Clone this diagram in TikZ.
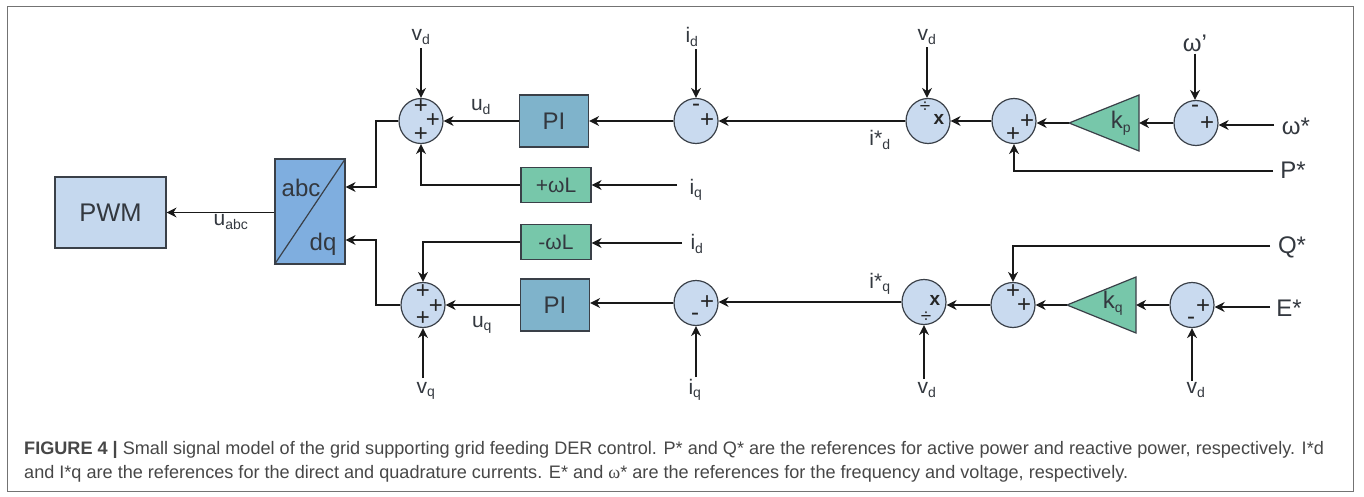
\documentclass[tikz,border=0pt]{standalone}
\usepackage{fontspec}
\setmainfont{Liberation Sans}
\newfontfamily\capfont{Liberation Sans}
\newfontfamily\capserif{Liberation Serif}
\usetikzlibrary{arrows.meta,shapes.geometric}
\definecolor{sumfill}{HTML}{C9DAEF}
\definecolor{pwmfill}{HTML}{C5D8EE}
\definecolor{abcfill}{HTML}{7FAEDF}
\definecolor{pifill}{HTML}{7FB3CB}
\definecolor{grnfill}{HTML}{77C7AA}
\definecolor{edge}{HTML}{3A4048}
\definecolor{txt}{HTML}{33383F}
\tikzset{
  x=1pt,y=-1pt,
  conn/.style={draw=black!90,line width=1.4pt,-{Stealth[length=10pt,width=10pt]}},
  sumnode/.style={ellipse,draw=edge,line width=1.2pt,fill=sumfill,minimum width=44pt,minimum height=45pt,inner sep=0pt},
  block/.style={draw=edge,line width=1.2pt,inner sep=0pt,font=\fontsize{24}{24}\selectfont,text=txt},
  pwmbox/.style={block,fill=pwmfill,minimum width=111pt,minimum height=71pt,font=\fontsize{25.5}{25.5}\selectfont},
  abcbox/.style={block,fill=abcfill,minimum width=70pt,minimum height=105pt},
  pibox/.style={block,fill=pifill,minimum width=69pt,minimum height=52pt},
  wlbox/.style={block,fill=grnfill,minimum width=70pt,minimum height=35pt,font=\fontsize{21}{21}\selectfont},
  boxtxt/.style={font=\fontsize{24}{24}\selectfont,text=txt,inner sep=0pt},
  lab/.style={font=\fontsize{21}{21}\selectfont,text=txt,inner sep=0pt},
  biglab/.style={font=\fontsize{24}{24}\selectfont,text=txt,inner sep=0pt},
  sgn/.style={font=\fontsize{24}{24}\selectfont,text=black!85,inner sep=0pt},
  sgnsmall/.style={font=\fontsize{19}{19}\selectfont,text=black!85,inner sep=0pt},
  captext/.style={font=\capfont\fontsize{18.1}{18.1}\selectfont,text=black!72,inner sep=0pt,anchor=base west},
  tri/.style={draw=edge,line width=1.2pt,fill=grnfill,line join=miter},
}
\newcommand{\sbs}[2]{#1\textsubscript{\fontsize{14}{14}\selectfont #2}}
\begin{document}
\begin{tikzpicture}
\useasboundingbox (0,0) rectangle (1364,497);
\fill[white] (0,0) rectangle (1364,497);
\draw[draw=black!55,line width=1pt] (7,6.5) rectangle (1353,491);

% blocks
\node[pwmbox] (pwm) at (110.5,212.5) {PWM};
\node[abcbox] (abc) at (310,211.5) {};
\draw[draw=edge,line width=1.2pt] (abc.south west) -- (abc.north east);
\node[boxtxt] (abctxt) at (301,188) {abc};
\node[boxtxt] (dqtxt) at (323,244) {dq};
\node[pibox] (pi1) at (554,121) {PI};
\node[pibox] (pi2) at (555,305) {PI};
\node[wlbox] (wlp) at (556,185) {+ωL};
\node[wlbox] (wlm) at (556,242) {-ωL};

% summers upper
\node[sumnode] (s1) at (421,121) {};
\node[sumnode] (s2) at (696,121) {};
\node[sumnode] (s3) at (928,121) {};
\node[sumnode] (s4) at (1014,121) {};
\node[sumnode] (s5) at (1196,123) {};
% summers lower
\node[sumnode] (s6) at (423,305) {};
\node[sumnode] (s7) at (696,303) {};
\node[sumnode] (s8) at (924,302) {};
\node[sumnode] (s9) at (1013,305) {};
\node[sumnode] (s10) at (1192,305) {};

% triangles
\coordinate (kpt) at (1069,123);
\coordinate (kpb) at (1139,123);
\draw[tri] (kpt) -- (1139,95) -- (1139,151) -- cycle;
\coordinate (kqt) at (1067,305);
\coordinate (kqb) at (1136,305);
\draw[tri] (kqt) -- (1136,277) -- (1136,333) -- cycle;
\node[biglab] (kp) at (1121,123) {\sbs{k}{p}};
\node[biglab] (kq) at (1113,303) {\sbs{k}{q}};

% signs
\node[sgn] at (421,107) {+};
\node[sgn] at (433,121) {+};
\node[sgn] at (421,135) {+};
\node[sgn] at (423,292) {+};
\node[sgn] at (436,307) {+};
\node[sgn] at (423,319) {+};
\node[sgn] at (696,108) {-};
\node[sgn] at (707,121) {+};
\node[sgn] at (707,303) {+};
\node[sgn] at (695,317) {-};
\node[sgnsmall] at (925,107) {÷};
\node[sgnsmall] at (939,119) {\textbf{x}};
\node[sgnsmall] at (935,300) {\textbf{x}};
\node[sgnsmall] at (926,317) {÷};
\node[sgn] at (1027,122) {+};
\node[sgn] at (1013,135) {+};
\node[sgn] at (1013,292) {+};
\node[sgn] at (1024,306) {+};
\node[sgn] at (1195,109) {-};
\node[sgn] at (1207,124) {+};
\node[sgn] at (1191,321) {-};
\node[sgn] at (1203,307) {+};

% labels
\node[lab] (vd1) at (421,37) {\sbs{v}{d}};
\node[lab] (id1) at (692,37) {\sbs{i}{d}};
\node[lab] (vd2) at (927,37) {\sbs{v}{d}};
\node[biglab] (wp) at (1195,43) {ω'};
\node[biglab] (ws) at (1296,126) {ω*};
\node[biglab] (ps) at (1293,170) {P*};
\node[biglab] (qs) at (1292,247) {Q*};
\node[biglab] (es) at (1289,308) {E*};
\node[lab] (iq1) at (696,190) {\sbs{i}{q}};
\node[lab] (id2) at (697,244) {\sbs{i}{d}};
\node[lab] (vq) at (426,391) {\sbs{v}{q}};
\node[lab] (iq2) at (695,390) {\sbs{i}{q}};
\node[lab] (vd3) at (927,390) {\sbs{v}{d}};
\node[lab] (vd4) at (1196,390) {\sbs{v}{d}};
\node[lab] (ud) at (481,107) {\sbs{u}{d}};
\node[lab] (uq) at (482,325) {\sbs{u}{q}};
\node[lab] (uabc) at (231,222) {\sbs{u}{abc}};
\node[lab] (idr) at (880,140) {\sbs{i*}{d}};
\node[lab] (iqr) at (880,284) {\sbs{i*}{q}};

% named free ends
\coordinate (n1) at (1274,125);
\coordinate (n2) at (1273,171);
\coordinate (n3) at (1270,246);
\coordinate (n4) at (1270,307);
\coordinate (n5) at (677,185);
\coordinate (n6) at (682,243);

% connectors
\draw[conn] (abc.west |- pwm.east) -- (pwm.east);
\draw[conn] (s1.west) -- (376,121) -- (376,187) -- (abc.east |- 0,187);
\draw[conn] (s6.west) -- (376,305) -- (376,240) -- (abc.east |- 0,240);
\draw[conn] (pi1.west) -- (s1.east);
\draw[conn] (pi2.west) -- (s6.east);
\draw[conn] (s2.west) -- (pi1.east);
\draw[conn] (s7.west) -- (pi2.east |- s7.west);
\draw[conn] (s3.west) -- (s2.east);
\draw[conn] (s8.west) -- (s7.east |- s8.west);
\draw[conn] (s4.west) -- (s3.east);
\draw[conn] (s9.west) -- (s8.east |- s9.west);
\draw[conn] (kpt) -- (s4.east |- kpt);
\draw[conn] (kqt) -- (s9.east);
\draw[conn] (s5.west) -- (kpb);
\draw[conn] (s10.west) -- (kqb);
\draw[conn] (wlp.west) -- (s1.south |- wlp.west) -- (s1.south);
\draw[conn] (wlm.west) -- (s6.north |- wlm.west) -- (s6.north);
\draw[conn] (vd1.south) ++(0,4) -- (s1.north);
\draw[conn] (id1.south -| s2.north) ++(0,3) -- (s2.north);
\draw[conn] (vd2.south) ++(0,3) -- (vd2.south |- s3.north);
\draw[conn] (wp.south) ++(0,2) -- (wp.south |- s5.north);
\draw[conn] (n1) -- (s5.east |- n1);
\draw[conn] (n2) -- (s4.south |- n2) -- (s4.south);
\draw[conn] (n3) -- (s9.north |- n3) -- (s9.north);
\draw[conn] (n4) -- (s10.east |- n4);
\draw[conn] (n5) -- (wlp.east);
\draw[conn] (n6) -- (wlm.east |- n6);
\draw[conn] (vq.north -| s6.south) ++(0,-4) -- (s6.south);
\draw[conn] (iq2.north -| s7.south) ++(0,-2) -- (s7.south);
\draw[conn] (vd3.north -| s8.south) ++(0,-4) -- (s8.south);
\draw[conn] (vd4.north -| s10.south) ++(0,-2) -- (s10.south);

% caption
\node[captext] (c1) at (24,454) {\textbf{FIGURE 4 |} Small signal model of the grid supporting grid feeding DER control. P* and Q* are the references for active power and reactive power, respectively. I*d};
\node[captext] (c2) at (24,478) {and I*q are the references for the direct and quadrature currents. E* and {\capserif ω}* are the references for the frequency and voltage, respectively.};
\end{tikzpicture}
\end{document}
